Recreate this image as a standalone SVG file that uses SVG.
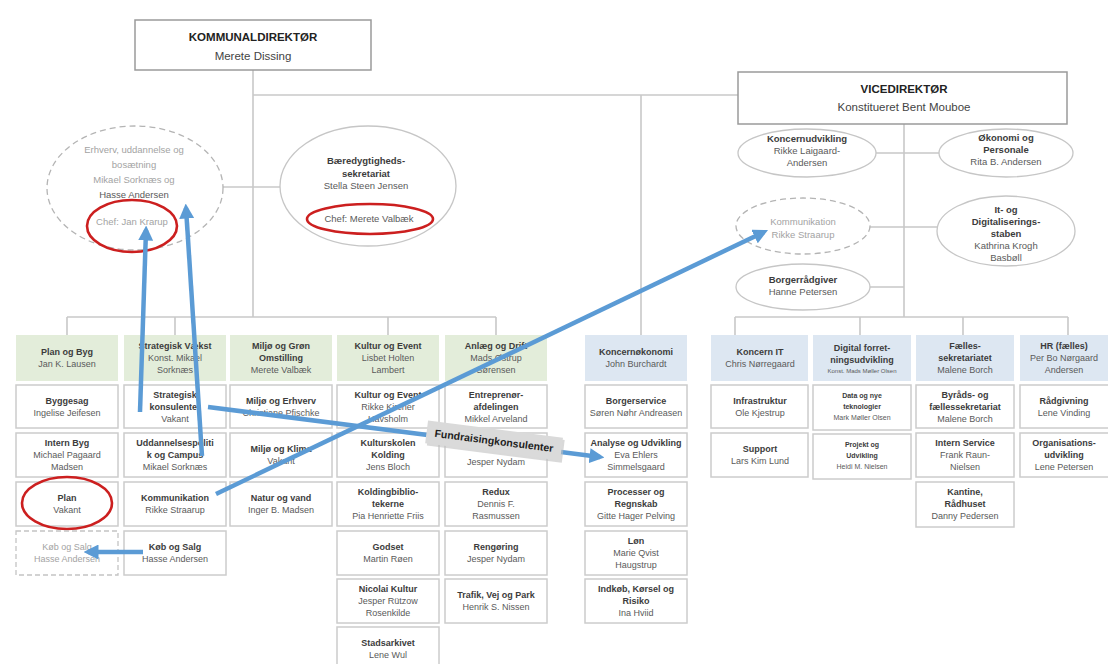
<svg xmlns="http://www.w3.org/2000/svg" width="1108" height="664" viewBox="0 0 1108 664">
  <style>
    .bg { fill: #ffffff; }
    .box { fill: #ffffff; stroke: #cccccc; stroke-width: 1.5; }
    .dbox { fill: #ffffff; stroke: #c4c4c4; stroke-width: 1.3; stroke-dasharray: 5 3; }
    .hg { fill: #e3edda; }
    .hb { fill: #dde7f2; }
    .top { fill: #ffffff; stroke: #9a9a9a; stroke-width: 1.5; }
    .ell { fill: #ffffff; stroke: #c6c6c6; stroke-width: 1.3; }
    .dell { fill: #ffffff; stroke: #b4b4b4; stroke-width: 1.3; stroke-dasharray: 6 4; }
    .red { fill: none; stroke: #cc1f1f; stroke-width: 2.6; }
    .ln { fill: none; stroke: #c8c8c8; stroke-width: 1.6; }
    .arr { fill: none; stroke: #5b9bd5; stroke-width: 4.5; marker-end: url(#ah); }
    text { font-family: "Liberation Sans", Arial, sans-serif; font-size: 9px; text-anchor: middle; fill: #5a5a5a; }
    .b { font-weight: bold; fill: #3c3c3c; }
    .g { fill: #a3a3a3; }
    .hd { font-size: 11.5px; font-weight: bold; fill: #222222; }
    .hn { font-size: 11.5px; fill: #444444; }
    .e { font-size: 9.5px; }
    .s { font-size: 7px; }
    .xs { font-size: 6px; }
    .lab { font-size: 10.5px; font-weight: bold; fill: #1e1e1e; }
  </style>
  <defs>
    <marker id="ah" viewBox="0 0 10 10" refX="7" refY="5" markerWidth="15" markerHeight="15" markerUnits="userSpaceOnUse" orient="auto">
      <path d="M0,0 L10,5 L0,10 z" fill="#5b9bd5"/>
    </marker>
  </defs>

  <rect class="bg" x="0" y="0" width="1108" height="664"/>

  <!-- tree connectors -->
  <g id="connectors">
    <path class="ln" d="M253 70 V317"/>
    <path class="ln" d="M253 95 H738"/>
    <path class="ln" d="M223 187 H280"/>
    <path class="ln" d="M67 317 H496"/>
    <path class="ln" d="M67 317 V335 M175 317 V335 M388 317 V335 M496 317 V335"/>
    <path class="ln" d="M641 95 V335"/>
    <path class="ln" d="M904 124 V317"/>
    <path class="ln" d="M735 317 H1068"/>
    <path class="ln" d="M735 317 V335 M860 317 V335 M963 317 V335 M1068 317 V335"/>
    <path class="ln" d="M876 153 H939 M870 227 H937 M870 287 H904"/>
  </g>

  <!-- management -->
  <g id="kommunaldirektor">
    <rect class="top" x="135" y="20" width="236" height="50"/>
    <text class="hd" x="253" y="41">KOMMUNALDIREKTØR</text>
    <text class="hn" x="253" y="60">Merete Dissing</text>
  </g>
  <g id="vicedirektor">
    <rect class="top" x="738" y="72" width="329" height="52"/>
    <text class="hd" x="904" y="93">VICEDIREKTØR</text>
    <text class="hn" x="904" y="111">Konstitueret Bent Mouboe</text>
  </g>

  <!-- staff units -->
  <g id="erhverv">
    <ellipse class="dell" cx="135" cy="188" rx="88" ry="62"/>
    <text class="e g" x="134" y="153">Erhverv, uddannelse og</text>
    <text class="e g" x="134" y="168">bosætning</text>
    <text class="e g" x="134" y="183">Mikael Sorknæs og</text>
    <text class="e" x="134" y="198" fill="#c9b3b3">Hasse Andersen</text>
    <text class="e g" x="132" y="225">Chef: Jan Krarup</text>
    <ellipse class="red" cx="132" cy="226" rx="45" ry="26"/>
  </g>
  <g id="baeredygtighed">
    <ellipse class="ell" cx="368" cy="186" rx="88" ry="60"/>
    <text class="e b" x="366" y="164">Bæredygtigheds-</text>
    <text class="e b" x="366" y="176.5">sekretariat</text>
    <text class="e" x="366" y="189">Stella Steen Jensen</text>
    <text class="e" x="369" y="222">Chef: Merete Valbæk</text>
    <ellipse class="red" cx="370" cy="219" rx="63" ry="15"/>
  </g>
  <g id="koncernudvikling">
    <ellipse class="ell" cx="807" cy="153" rx="69" ry="24"/>
    <text class="e b" x="807" y="142">Koncernudvikling</text>
    <text class="e" x="807" y="154">Rikke Laigaard-</text>
    <text class="e" x="807" y="166">Andersen</text>
  </g>
  <g id="okonomi-personale">
    <ellipse class="ell" cx="1006" cy="153" rx="67" ry="24"/>
    <text class="e b" x="1006" y="141">Økonomi og</text>
    <text class="e b" x="1006" y="153">Personale</text>
    <text class="e" x="1006" y="165">Rita B. Andersen</text>
  </g>
  <g id="kommunikation-stab">
    <ellipse class="dell" cx="803" cy="226" rx="67" ry="28"/>
    <text class="e g" x="803" y="225">Kommunikation</text>
    <text class="e g" x="803" y="238">Rikke Straarup</text>
  </g>
  <g id="it-digitalisering">
    <ellipse class="ell" cx="1006" cy="231" rx="69" ry="35"/>
    <text class="e b" x="1006" y="213">It- og</text>
    <text class="e b" x="1006" y="225">Digitaliserings-</text>
    <text class="e b" x="1006" y="237">staben</text>
    <text class="e" x="1006" y="249">Kathrina Krogh</text>
    <text class="e" x="1006" y="261">Basbøll</text>
  </g>
  <g id="borgerradgiver">
    <ellipse class="ell" cx="803" cy="287" rx="67" ry="23"/>
    <text class="e b" x="803" y="283">Borgerrådgiver</text>
    <text class="e" x="803" y="295">Hanne Petersen</text>
  </g>

  <!-- Plan og Byg -->
  <g id="plan-og-byg">
    <rect class="hg" x="16" y="335" width="102" height="46"/>
    <text class="b" x="67" y="355">Plan og Byg</text>
    <text x="67" y="367">Jan K. Lausen</text>
  </g>
  <g id="byggesag">
    <rect class="box" x="16" y="385" width="102" height="43"/>
    <text class="b" x="67" y="403.5">Byggesag</text>
    <text x="67" y="415.5">Ingelise Jeifesen</text>
  </g>
  <g id="intern-byg">
    <rect class="box" x="16" y="433" width="102" height="44"/>
    <text class="b" x="67" y="446">Intern Byg</text>
    <text x="67" y="458">Michael Pagaard</text>
    <text x="67" y="470">Madsen</text>
  </g>
  <g id="plan">
    <rect class="box" x="16" y="482" width="102" height="44"/>
    <text class="b" x="67" y="501">Plan</text>
    <text x="67" y="513">Vakant</text>
    <ellipse class="red" cx="67" cy="503" rx="45" ry="26"/>
  </g>
  <g id="kob-og-salg-plan">
    <rect class="dbox" x="16" y="531" width="102" height="44"/>
    <text class="g" x="67" y="550">Køb og Salg</text>
    <text class="g" x="67" y="562">Hasse Andersen</text>
  </g>

  <!-- Strategisk Vækst -->
  <g id="strategisk-vaekst">
    <rect class="hg" x="124" y="335" width="102" height="46"/>
    <text class="b" x="175" y="349">Strategisk Vækst</text>
    <text x="175" y="361">Konst. Mikael</text>
    <text x="175" y="373">Sorknæs</text>
  </g>
  <g id="strategiske-konsulenter">
    <rect class="box" x="124" y="385" width="102" height="43"/>
    <text class="b" x="175" y="397.5">Strategisk</text>
    <text class="b" x="175" y="409.5">konsulenter</text>
    <text x="175" y="421.5">Vakant</text>
  </g>
  <g id="uddannelsespolitik">
    <rect class="box" x="124" y="433" width="102" height="44"/>
    <text class="b" x="175" y="446">Uddannelsespoliti</text>
    <text class="b" x="175" y="458">k og Campus</text>
    <text x="175" y="470">Mikael Sorknæs</text>
  </g>
  <g id="kommunikation-vaekst">
    <rect class="box" x="124" y="482" width="102" height="44"/>
    <text class="b" x="175" y="501">Kommunikation</text>
    <text x="175" y="513">Rikke Straarup</text>
  </g>
  <g id="kob-og-salg">
    <rect class="box" x="124" y="531" width="102" height="44"/>
    <text class="b" x="175" y="550">Køb og Salg</text>
    <text x="175" y="562">Hasse Andersen</text>
  </g>

  <!-- Miljø og Grøn Omstilling -->
  <g id="miljo-gron-omstilling">
    <rect class="hg" x="230" y="335" width="102" height="46"/>
    <text class="b" x="281" y="349">Miljø og Grøn</text>
    <text class="b" x="281" y="361">Omstilling</text>
    <text x="281" y="373">Merete Valbæk</text>
  </g>
  <g id="miljo-erhverv">
    <rect class="box" x="230" y="385" width="102" height="43"/>
    <text class="b" x="281" y="403.5">Miljø og Erhverv</text>
    <text x="281" y="415.5">Christiane Pfischke</text>
  </g>
  <g id="miljo-klima">
    <rect class="box" x="230" y="433" width="102" height="44"/>
    <text class="b" x="281" y="452">Miljø og Klima</text>
    <text x="281" y="464">Vakant</text>
  </g>
  <g id="natur-vand">
    <rect class="box" x="230" y="482" width="102" height="44"/>
    <text class="b" x="281" y="501">Natur og vand</text>
    <text x="281" y="513">Inger B. Madsen</text>
  </g>

  <!-- Kultur og Event -->
  <g id="kultur-og-event">
    <rect class="hg" x="337" y="335" width="102" height="46"/>
    <text class="b" x="388" y="349">Kultur og Event</text>
    <text x="388" y="361">Lisbet Holten</text>
    <text x="388" y="373">Lambert</text>
  </g>
  <g id="kultur-event-afd">
    <rect class="box" x="337" y="385" width="102" height="43"/>
    <text class="b" x="388" y="397.5">Kultur og Event</text>
    <text x="388" y="409.5">Rikke Kircher</text>
    <text x="388" y="421.5">Havsholm</text>
  </g>
  <g id="kulturskolen">
    <rect class="box" x="337" y="433" width="102" height="44"/>
    <text class="b" x="388" y="446">Kulturskolen</text>
    <text class="b" x="388" y="458">Kolding</text>
    <text x="388" y="470">Jens Bloch</text>
  </g>
  <g id="koldingbibliotekerne">
    <rect class="box" x="337" y="482" width="102" height="44"/>
    <text class="b" x="388" y="495">Koldingbiblio-</text>
    <text class="b" x="388" y="507">tekerne</text>
    <text x="388" y="519">Pia Henriette Friis</text>
  </g>
  <g id="godset">
    <rect class="box" x="337" y="531" width="102" height="44"/>
    <text class="b" x="388" y="550">Godset</text>
    <text x="388" y="562">Martin Røen</text>
  </g>
  <g id="nicolai-kultur">
    <rect class="box" x="337" y="579" width="102" height="44"/>
    <text class="b" x="388" y="592">Nicolai Kultur</text>
    <text x="388" y="604">Jesper Rützow</text>
    <text x="388" y="616">Rosenkilde</text>
  </g>
  <g id="stadsarkivet">
    <rect class="box" x="337" y="627" width="102" height="44"/>
    <text class="b" x="388" y="646">Stadsarkivet</text>
    <text x="388" y="658">Lene Wul</text>
  </g>

  <!-- Anlæg og Drift -->
  <g id="anlaeg-og-drift">
    <rect class="hg" x="445" y="335" width="102" height="46"/>
    <text class="b" x="496" y="349">Anlæg og Drift</text>
    <text x="496" y="361">Mads Østrup</text>
    <text x="496" y="373">Sørensen</text>
  </g>
  <g id="entreprenorafdelingen">
    <rect class="box" x="445" y="385" width="102" height="43"/>
    <text class="b" x="496" y="397.5">Entreprenør-</text>
    <text class="b" x="496" y="409.5">afdelingen</text>
    <text x="496" y="421.5">Mikkel Arveland</text>
  </g>
  <g id="anlaeg-nydam">
    <rect class="box" x="445" y="433" width="102" height="44"/>
    <text x="496" y="465">Jesper Nydam</text>
  </g>
  <g id="redux">
    <rect class="box" x="445" y="482" width="102" height="44"/>
    <text class="b" x="496" y="495">Redux</text>
    <text x="496" y="507">Dennis F.</text>
    <text x="496" y="519">Rasmussen</text>
  </g>
  <g id="rengoring">
    <rect class="box" x="445" y="531" width="102" height="44"/>
    <text class="b" x="496" y="550">Rengøring</text>
    <text x="496" y="562">Jesper Nydam</text>
  </g>
  <g id="trafik-vej-park">
    <rect class="box" x="445" y="579" width="102" height="44"/>
    <text class="b" x="496" y="598">Trafik, Vej og Park</text>
    <text x="496" y="610">Henrik S. Nissen</text>
  </g>

  <!-- Koncernøkonomi -->
  <g id="koncernokonomi">
    <rect class="hb" x="585" y="335" width="102" height="46"/>
    <text class="b" x="636" y="355">Koncernøkonomi</text>
    <text x="636" y="367">John Burchardt</text>
  </g>
  <g id="borgerservice">
    <rect class="box" x="585" y="385" width="102" height="43"/>
    <text class="b" x="636" y="403.5">Borgerservice</text>
    <text x="636" y="415.5">Søren Nøhr Andreasen</text>
  </g>
  <g id="analyse-udvikling">
    <rect class="box" x="585" y="433" width="102" height="44"/>
    <text class="b" x="636" y="446">Analyse og Udvikling</text>
    <text x="636" y="458">Eva Ehlers</text>
    <text x="636" y="470">Simmelsgaard</text>
  </g>
  <g id="processer-regnskab">
    <rect class="box" x="585" y="482" width="102" height="44"/>
    <text class="b" x="636" y="495">Processer og</text>
    <text class="b" x="636" y="507">Regnskab</text>
    <text x="636" y="519">Gitte Hager Pelving</text>
  </g>
  <g id="lon">
    <rect class="box" x="585" y="531" width="102" height="44"/>
    <text class="b" x="636" y="544">Løn</text>
    <text x="636" y="556">Marie Qvist</text>
    <text x="636" y="568">Haugstrup</text>
  </g>
  <g id="indkob-korsel-risiko">
    <rect class="box" x="585" y="579" width="102" height="44"/>
    <text class="b" x="636" y="592">Indkøb, Kørsel og</text>
    <text class="b" x="636" y="604">Risiko</text>
    <text x="636" y="616">Ina Hviid</text>
  </g>

  <!-- Koncern IT -->
  <g id="koncern-it">
    <rect class="hb" x="711" y="335" width="97" height="46"/>
    <text class="b" x="760" y="355">Koncern IT</text>
    <text x="760" y="367">Chris Nørregaard</text>
  </g>
  <g id="infrastruktur">
    <rect class="box" x="711" y="385" width="97" height="43"/>
    <text class="b" x="760" y="403.5">Infrastruktur</text>
    <text x="760" y="415.5">Ole Kjestrup</text>
  </g>
  <g id="support">
    <rect class="box" x="711" y="433" width="97" height="44"/>
    <text class="b" x="760" y="452">Support</text>
    <text x="760" y="464">Lars Kim Lund</text>
  </g>

  <!-- Digital forretningsudvikling -->
  <g id="digital-forretningsudvikling">
    <rect class="hb" x="813" y="335" width="98" height="46"/>
    <text class="b" x="862" y="351">Digital forret-</text>
    <text class="b" x="862" y="363">ningsudvikling</text>
    <text class="xs" x="862" y="373">Konst. Mads Møller Olsen</text>
  </g>
  <g id="data-nye-teknologier">
    <rect class="box" x="813" y="385" width="98" height="45"/>
    <text class="s b" x="862" y="398">Data og nye</text>
    <text class="s b" x="862" y="409">teknologier</text>
    <text class="s" x="862" y="420">Mark Møller Olsen</text>
  </g>
  <g id="projekt-udvikling">
    <rect class="box" x="813" y="434" width="98" height="45"/>
    <text class="s b" x="862" y="447">Projekt og</text>
    <text class="s b" x="862" y="458">Udvikling</text>
    <text class="s" x="862" y="469">Heidi M. Nielsen</text>
  </g>

  <!-- Fællessekretariatet -->
  <g id="faellessekretariatet">
    <rect class="hb" x="916" y="335" width="98" height="46"/>
    <text class="b" x="965" y="349">Fælles-</text>
    <text class="b" x="965" y="361">sekretariatet</text>
    <text x="965" y="373">Malene Borch</text>
  </g>
  <g id="byraads-faellessekretariat">
    <rect class="box" x="916" y="385" width="98" height="43"/>
    <text class="b" x="965" y="397.5">Byråds- og</text>
    <text class="b" x="965" y="409.5">fællessekretariat</text>
    <text x="965" y="421.5">Malene Borch</text>
  </g>
  <g id="intern-service">
    <rect class="box" x="916" y="433" width="98" height="44"/>
    <text class="b" x="965" y="446">Intern Service</text>
    <text x="965" y="458">Frank Raun-</text>
    <text x="965" y="470">Nielsen</text>
  </g>
  <g id="kantine-radhuset">
    <rect class="box" x="916" y="482" width="98" height="45"/>
    <text class="b" x="965" y="495">Kantine,</text>
    <text class="b" x="965" y="507">Rådhuset</text>
    <text x="965" y="519">Danny Pedersen</text>
  </g>

  <!-- HR (fælles) -->
  <g id="hr-faelles">
    <rect class="hb" x="1020" y="335" width="96" height="46"/>
    <text class="b" x="1064" y="349">HR (fælles)</text>
    <text x="1064" y="361">Per Bo Nørgaard</text>
    <text x="1064" y="373">Andersen</text>
  </g>
  <g id="radgivning">
    <rect class="box" x="1020" y="385" width="96" height="43"/>
    <text class="b" x="1064" y="403.5">Rådgivning</text>
    <text x="1064" y="415.5">Lene Vinding</text>
  </g>
  <g id="organisationsudvikling">
    <rect class="box" x="1020" y="433" width="96" height="44"/>
    <text class="b" x="1064" y="446">Organisations-</text>
    <text class="b" x="1064" y="458">udvikling</text>
    <text x="1064" y="470">Lene Petersen</text>
  </g>

  <!-- transfer arrows -->
  <g id="transfer-arrows">
    <path class="arr" d="M140 412 L146 230"/>
    <path class="arr" d="M202 456 L186 208"/>
    <path class="arr" d="M216 494 L764 232"/>
    <path class="arr" d="M208 407 L600 457"/>
    <path class="arr" d="M143 552 L88 552"/>
  </g>
  <g id="fundraisingkonsulenter" transform="translate(494 441) rotate(7.3)">
    <rect x="-66" y="-10" width="136" height="23" fill="#bfbfbf" opacity="0.6"/>
    <rect x="-68" y="-12" width="136" height="23" fill="#dadada"/>
    <text class="lab" x="0" y="3.5">Fundraisingkonsulenter</text>
  </g>
</svg>
